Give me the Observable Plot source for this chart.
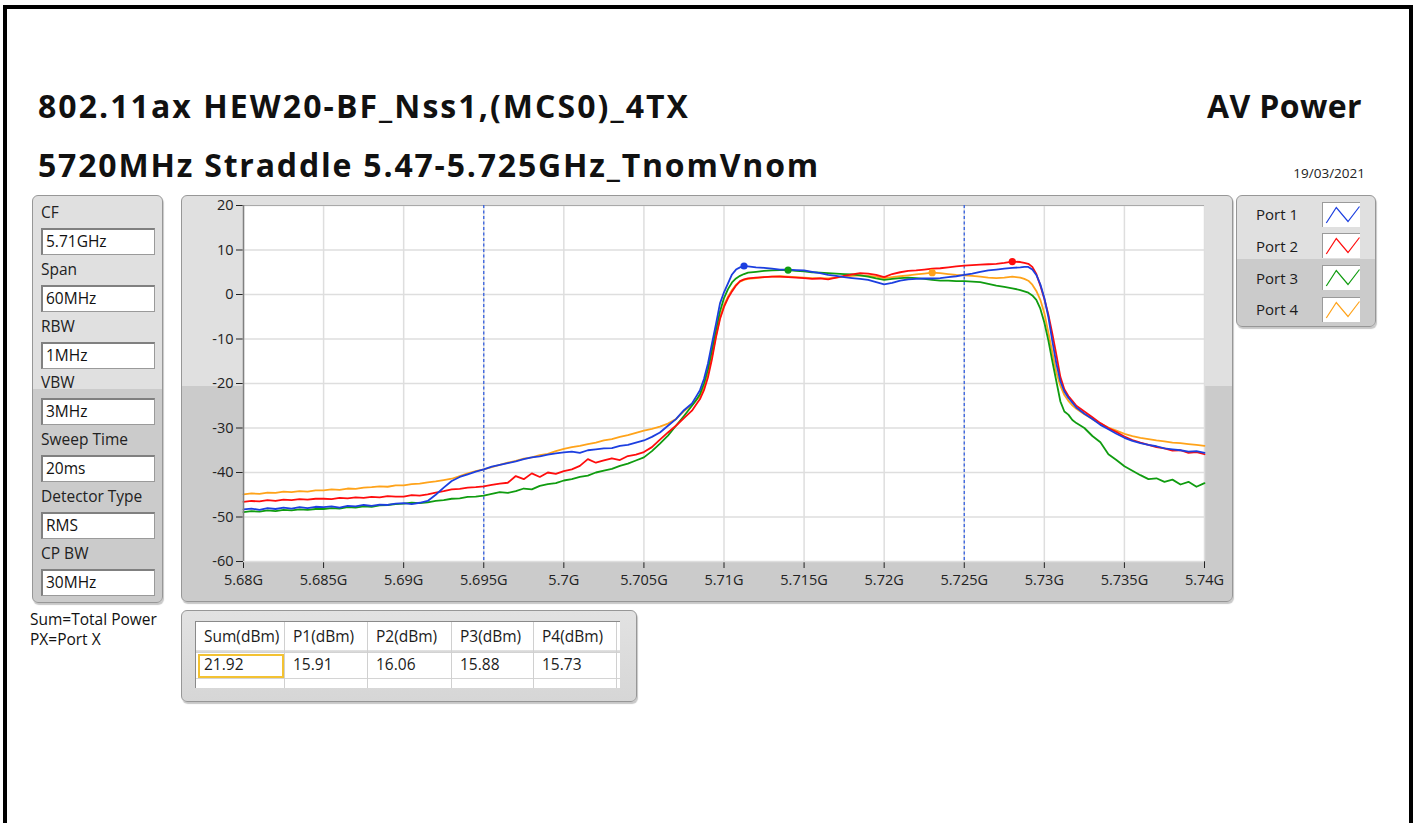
<!DOCTYPE html>
<html>
<head>
<meta charset="utf-8">
<script src="https://cdn.jsdelivr.net/npm/d3@7"></script>
<script src="https://cdn.jsdelivr.net/npm/@observablehq/plot@0.6"></script>
<style>
html,body{margin:0;padding:0;background:#fff;}
#page{position:relative;width:1415px;height:823px;overflow:hidden;font-family:"Open Sans",sans-serif;color:#1b1b1b;}
#page div{position:absolute;box-sizing:border-box;white-space:nowrap;}
.outer{left:3px;top:5px;width:1410px;height:900px;border:4px solid #000;}
.title{font-weight:700;font-size:32px;line-height:40px;color:#111;}
.panel{border:1px solid #979797;border-radius:6px;box-shadow:1px 2px 1px rgba(0,0,0,0.22);}
.lbl{font-size:15.5px;line-height:20px;color:#222;}
.box{background:#fff;border:1px solid #9a9a9a;border-top:2px solid #808080;border-left:2px solid #808080;font-size:15.5px;line-height:23px;padding-left:3px;color:#111;}
.cell{font-size:15.5px;line-height:20px;color:#1b1b1b;}
</style>
</head>
<body>
<div id="page"></div>
<script>
// ---------------- data ----------------
const titleLine1 = "802.11ax HEW20-BF_Nss1,(MCS0)_4TX";
const titleLine2 = "5720MHz Straddle 5.47-5.725GHz_TnomVnom";
const titleRight = "AV Power";
const dateText = "19/03/2021";

const paramLabels = ["CF", "Span", "RBW", "VBW", "Sweep Time", "Detector Type", "CP BW"];
const paramValues = ["5.71GHz", "60MHz", "1MHz", "3MHz", "20ms", "RMS", "30MHz"];
const notes = ["Sum=Total Power", "PX=Port X"];

const tableHeaders = ["Sum(dBm)", "P1(dBm)", "P2(dBm)", "P3(dBm)", "P4(dBm)"];
const tableValues = ["21.92", "15.91", "16.06", "15.88", "15.73"];

const ports = ["Port 1", "Port 2", "Port 3", "Port 4"];
const portColors = ["#1c3fe0", "#ff0d0d", "#109c10", "#ffa31a"];

const xTicks = [5680, 5685, 5690, 5695, 5700, 5705, 5710, 5715, 5720, 5725, 5730, 5735, 5740];
const yTicks = [-60, -50, -40, -30, -20, -10, 0, 10, 20];
const cpEdges = [5695, 5725];

// frequency in MHz
const freqMHz = [
  5680,5680.5,5681,5681.5,5682,5682.5,5683,5683.5,5684,5684.5,
  5685,5685.5,5686,5686.5,5687,5687.5,5688,5688.5,5689,5689.5,
  5690,5690.5,5691,5691.5,5692,5692.5,5693,5693.5,5694,5694.5,
  5695,5695.5,5696,5696.5,5697,5697.5,5698,5698.5,5699,5699.5,
  5700,5700.5,5701,5701.5,5702,5702.5,5703,5703.5,5704,5704.5,
  5705,5705.5,5706,5706.5,5707,5707.5,
  5708,5708.25,5708.5,5708.75,5709,5709.25,5709.5,5709.75,5710,5710.25,5710.5,5710.75,5711,5711.25,5711.5,
  5712,5712.5,5713,5713.5,5714,5714.5,5715,5715.5,5716,5716.5,
  5717,5717.5,5718,5718.5,5719,5719.5,5720,5720.5,5721,5721.5,
  5722,5722.5,5723,5723.5,5724,5724.5,5725,5725.5,5726,5726.5,
  5727,5727.5,5728,5728.5,
  5728.75,5729,5729.25,5729.5,5729.75,5730,5730.25,5730.5,5730.75,5731,5731.25,5731.5,5731.75,5732,
  5732.5,5733,5733.5,5734,5734.5,5735,5735.5,5736,5736.5,5737,5737.5,5738,5738.5,5739,5739.5,5740
];

const port1 = [
  -48.3,-48.1,-48.4,-48.0,-48.2,-47.9,-48.1,-47.8,-48.0,-47.7,
  -47.8,-47.6,-47.9,-47.5,-47.6,-47.3,-47.5,-47.2,-47.3,-47.0,
  -46.9,-47.1,-46.8,-46.4,-45.0,-43.4,-41.9,-41.0,-40.4,-39.8,
  -39.3,-38.7,-38.3,-37.9,-37.5,-37.0,-36.6,-36.4,-36.0,-35.7,
  -35.5,-35.3,-35.6,-35.0,-34.8,-34.6,-34.5,-34.0,-33.8,-33.3,
  -32.8,-32.0,-31.0,-29.5,-28.0,-26.0,
  -24.5,-23.0,-21.5,-19.0,-15.5,-11.0,-6.6,-2.0,0.5,2.5,4.5,5.6,6.1,6.4,6.3,
  6.1,6.0,5.8,5.6,5.6,5.5,5.4,5.1,4.8,4.4,
  4.2,3.9,3.7,3.5,3.3,2.8,2.3,2.6,3.1,3.4,
  3.5,3.6,3.6,3.7,3.9,4.1,4.4,4.7,5.1,5.4,
  5.6,5.8,6.0,6.1,
  6.2,6.2,5.6,4.4,2.3,-0.8,-5.0,-10.5,-15.5,-19.5,-21.8,-23.2,-24.3,-25.4,
  -26.8,-28.0,-29.3,-30.3,-31.3,-32.2,-32.9,-33.4,-33.8,-34.1,-34.6,-34.8,-35.0,-35.3,-35.2,-35.6
];
const port2 = [
  -46.6,-46.4,-46.5,-46.2,-46.4,-46.1,-46.2,-46.0,-46.1,-45.9,
  -45.9,-46.0,-45.7,-45.8,-45.6,-45.7,-45.5,-45.6,-45.3,-45.4,
  -45.4,-45.1,-45.2,-44.9,-44.5,-44.2,-43.8,-43.7,-43.4,-43.3,
  -43.1,-42.8,-42.5,-42.3,-40.8,-41.5,-40.2,-41.0,-40.0,-40.3,
  -39.7,-39.3,-38.5,-37.0,-37.8,-37.3,-36.8,-37.2,-36.3,-36.0,
  -35.4,-34.3,-32.6,-31.0,-29.5,-27.8,
  -26.1,-24.8,-23.5,-21.5,-18.6,-14.5,-9.6,-5.5,-2.8,-0.8,0.7,2.0,3.0,3.4,3.6,
  3.8,3.9,4.0,4.0,3.9,3.8,3.7,3.5,3.6,3.4,
  3.8,4.2,4.5,4.8,4.7,4.4,3.9,4.6,5.0,5.3,
  5.4,5.6,5.8,5.9,6.1,6.3,6.5,6.6,6.7,6.8,
  6.9,7.1,7.4,7.3,
  7.1,6.9,6.2,4.6,2.0,-1.0,-4.5,-8.8,-13.5,-18.5,-21.3,-22.8,-23.9,-25.0,
  -26.3,-27.6,-28.9,-30.0,-30.9,-31.9,-32.7,-33.3,-33.8,-34.3,-34.6,-35.1,-35.0,-35.6,-35.4,-35.9
];
const port3 = [
  -48.9,-48.7,-48.8,-48.5,-48.7,-48.4,-48.5,-48.3,-48.4,-48.2,
  -48.2,-48.0,-48.1,-47.8,-47.9,-47.6,-47.7,-47.4,-47.3,-47.1,
  -47.0,-46.8,-46.9,-46.7,-46.4,-46.2,-45.9,-45.8,-45.5,-45.4,
  -45.2,-44.8,-44.4,-44.6,-44.2,-43.6,-43.8,-43.0,-42.6,-42.4,
  -41.8,-41.5,-41.0,-40.7,-40.0,-39.6,-39.2,-38.5,-38.0,-37.3,
  -36.6,-35.2,-33.5,-31.7,-29.5,-27.3,
  -25.0,-23.8,-22.4,-20.0,-16.8,-12.5,-8.0,-3.8,-0.8,1.2,2.7,3.6,4.2,4.6,4.9,
  5.1,5.3,5.4,5.5,5.5,5.3,5.2,5.0,4.9,4.8,
  4.7,4.6,4.5,4.3,4.0,3.6,3.3,3.5,3.7,3.8,
  3.7,3.5,3.3,3.1,3.1,3.0,3.0,2.9,2.8,2.4,
  2.0,1.7,1.4,1.0,
  0.7,0.4,-0.2,-1.2,-3.2,-6.3,-10.3,-15.0,-19.5,-24.0,-26.3,-27.0,-28.2,-28.9,
  -30.0,-31.8,-33.2,-35.9,-37.2,-38.6,-39.6,-40.6,-41.5,-41.3,-42.1,-41.6,-42.7,-42.1,-43.2,-42.4
];
const port4 = [
  -44.9,-44.7,-44.8,-44.5,-44.6,-44.3,-44.4,-44.2,-44.3,-44.0,
  -44.0,-43.8,-43.9,-43.6,-43.7,-43.4,-43.3,-43.1,-43.2,-42.9,
  -42.9,-42.6,-42.5,-42.2,-42.0,-41.7,-41.4,-40.8,-40.2,-39.7,
  -39.3,-38.8,-38.3,-37.8,-37.4,-36.9,-36.6,-36.1,-35.8,-35.2,
  -34.7,-34.3,-34.0,-33.6,-33.3,-32.8,-32.5,-32.0,-31.6,-31.1,
  -30.6,-30.2,-29.7,-29.0,-28.0,-26.2,
  -24.8,-23.8,-22.8,-20.8,-17.8,-13.8,-9.3,-5.2,-2.4,-0.5,1.0,2.2,2.9,3.3,3.5,
  3.7,3.9,4.0,4.1,4.0,3.9,3.8,3.7,3.7,3.6,
  3.8,4.0,4.2,4.3,4.2,4.0,3.7,3.9,4.1,4.3,
  4.5,4.7,4.9,4.8,4.6,4.4,4.3,4.2,4.0,3.8,
  3.7,3.8,4.0,3.8,
  3.5,3.1,2.2,0.8,-1.2,-4.2,-8.5,-13.0,-17.5,-20.5,-22.6,-23.9,-24.9,-25.7,
  -26.9,-28.0,-29.0,-29.9,-30.6,-31.3,-31.8,-32.2,-32.5,-32.8,-33.0,-33.3,-33.4,-33.6,-33.8,-34.0
];

// peak markers per port
const markerFreq = [5711.25, 5728, 5714, 5723];
const markerDb = [6.4, 7.4, 5.5, 4.9];

// ---------------- layout ----------------
const page = document.getElementById("page");
function add(cls, style, text) {
  const d = document.createElement("div");
  if (cls) d.className = cls;
  Object.assign(d.style, style);
  if (text != null) d.textContent = text;
  page.appendChild(d);
  return d;
}
function fitWidth(el, target) {
  el.style.letterSpacing = "0px";
  const w = el.getBoundingClientRect().width;
  const n = el.textContent.length;
  el.style.letterSpacing = ((target - w) / n) + "px";
}

add("outer", {});

const t1 = add("title", {left: "38px", top: "85.6px"}, titleLine1);
const t2 = add("title", {left: "38px", top: "144.6px"}, titleLine2);
const t3 = add("title", {left: "1207px", top: "85.6px"}, titleRight);
add("", {right: "50px", top: "163.8px", fontSize: "13.5px", lineHeight: "18px", color: "#222"}, dateText);

// left parameter panel
add("panel", {left: "32px", top: "195px", width: "131px", height: "408px",
  background: "linear-gradient(to bottom, #e0e0e0 0px, #e0e0e0 193px, #cbcbcb 193px, #cbcbcb 100%)"});
paramLabels.forEach((lab, i) => {
  add("lbl", {left: "41px", top: (218 + 56.8 * i - 16) + "px"}, lab);
  add("box", {left: "41px", top: (228 + 56.8 * i) + "px", width: "114px", height: "27px"}, paramValues[i]);
});
notes.forEach((t, i) => add("lbl", {left: "30px", top: (609 + 20 * i) + "px", color: "#111"}, t));

// chart panel
add("panel", {left: "181px", top: "195px", width: "1052px", height: "407px",
  background: "linear-gradient(to bottom, #e0e0e0 0px, #e0e0e0 190px, #cbcbcb 190px, #cbcbcb 100%)"});

// legend panel
add("panel", {left: "1236px", top: "195px", width: "140px", height: "132px",
  background: "linear-gradient(to bottom, #e0e0e0 0px, #e0e0e0 63px, #cbcbcb 63px, #cbcbcb 100%)"});
ports.forEach((p, k) => {
  add("cell", {left: "1256px", top: (204.2 + 31.7 * k) + "px", fontSize: "15px"}, p);
  const b = add("", {left: "1322px", top: (201.7 + 31.7 * k) + "px", width: "38px", height: "25px",
    background: "#fff", borderTop: "1px solid #9a9a9a", borderLeft: "1px solid #9a9a9a"});
  b.innerHTML = `<svg width="38" height="25" style="display:block"><polyline points="3.3,20 13.3,4.5 25,18.5 36.5,3.5" fill="none" stroke="${portColors[k]}" stroke-width="1.2"/></svg>`;
});

// results table
add("panel", {left: "181px", top: "610px", width: "456px", height: "92px",
  background: "linear-gradient(to bottom, #e2e2e2 0px, #d6d6d6 100%)"});
const colW = [89, 83, 84, 82, 83];
const tbl = add("", {left: "195px", top: "621px", width: "425px", height: "67px", background: "#fff",
  borderTop: "1px solid #8a8a8a", borderLeft: "1px solid #8a8a8a", overflow: "hidden"});
function tAdd(style, text, cls) {
  const d = document.createElement("div");
  d.style.position = "absolute";
  d.style.boxSizing = "border-box";
  if (cls) d.className = cls;
  Object.assign(d.style, style);
  if (text != null) d.textContent = text;
  tbl.appendChild(d);
  return d;
}
tAdd({left: "0px", top: "28px", width: "425px", height: "3px", background: "linear-gradient(#e4e4e4,#cfcfcf)"});
tAdd({left: "0px", top: "56px", width: "425px", height: "1px", background: "#d4d4d4"});
let cx = 0;
tableHeaders.forEach((h, i) => {
  tAdd({left: cx + "px", top: "0px", width: colW[i] + "px", height: "67px", borderRight: "1px solid #d0d0d0"});
  tAdd({left: (cx + 8) + "px", top: "3.5px"}, h, "cell");
  tAdd({left: (cx + 8) + "px", top: "32px"}, tableValues[i], "cell");
  cx += colW[i];
});
tAdd({left: "2px", top: "32px", width: "86px", height: "24px", border: "2px solid #f3c232"});

// ---------------- chart ----------------
const series = [port1, port2, port3, port4];
const drawOrder = [3, 2, 1, 0];
const rows = [];
for (const k of drawOrder) freqMHz.forEach((f, i) => rows.push({f, db: series[k][i], port: ports[k]}));
const markers = ports.map((p, k) => ({f: markerFreq[k], db: markerDb[k], port: p}));

const chart = Plot.plot({
  width: 1052, height: 407,
  marginLeft: 62, marginRight: 29, marginTop: 10, marginBottom: 41,
  style: {background: "transparent", fontFamily: '"Open Sans", sans-serif', fontSize: "14.5px", color: "#222", overflow: "visible"},
  x: {domain: [5680, 5740], ticks: xTicks, tickFormat: d => (d / 1000) + "G", tickSize: 7, tickPadding: 6, label: null},
  y: {domain: [-60, 20], ticks: yTicks, tickFormat: d => String(d), tickSize: 7, tickPadding: 3, label: null},
  color: {domain: ports, range: portColors},
  marks: [
    Plot.frame({fill: "white", stroke: "none"}),
    Plot.ruleX(xTicks, {stroke: "#dedede", strokeWidth: 1.5}),
    Plot.ruleY(yTicks, {stroke: "#dedede", strokeWidth: 1.5}),
    Plot.ruleY([20], {stroke: "#a9a9a9", strokeWidth: 1}),
    Plot.ruleX(cpEdges, {stroke: "#3560e0", strokeWidth: 1.3, strokeDasharray: "3,2.5"}),
    Plot.line(rows, {x: "f", y: "db", z: "port", stroke: "port", strokeWidth: 1.8}),
    Plot.dot(markers, {x: "f", y: "db", fill: "port", r: 3.6}),
    Plot.ruleX([5680], {stroke: "#808080", strokeWidth: 1.5})
  ]
});
const holder = add("", {left: "181px", top: "195px", width: "1052px", height: "407px"});
holder.appendChild(chart);

function fitAll() {
  fitWidth(t1, 652);
  fitWidth(t2, 782);
  fitWidth(t3, 155);
}
fitAll();
if (document.fonts && document.fonts.ready) document.fonts.ready.then(fitAll);
</script>
</body>
</html>
